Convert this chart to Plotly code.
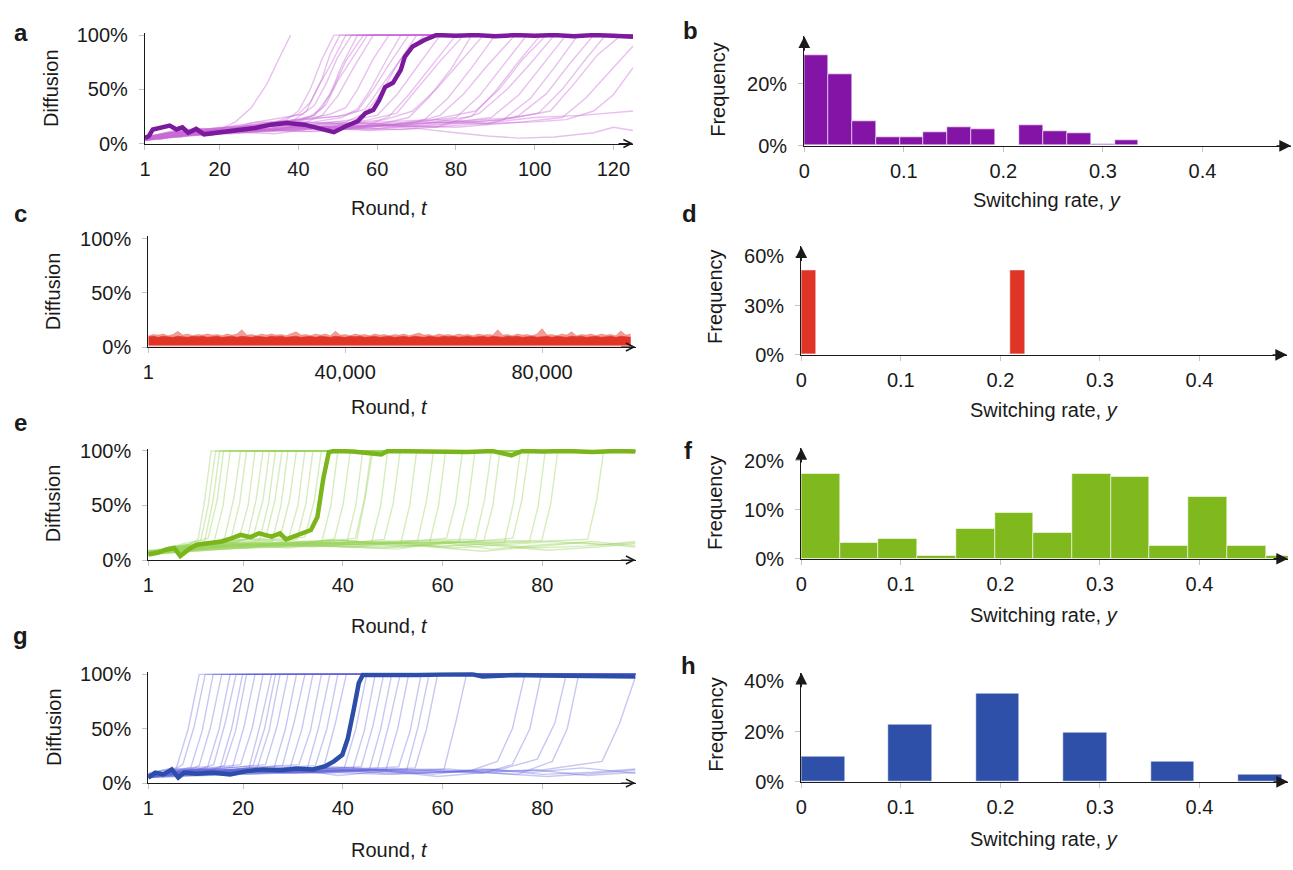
import plotly.graph_objects as go

W, H = 1293, 870
FONT = "Liberation Sans, Arial, Helvetica, sans-serif"
INK = "#1a1a1a"
TICKC = "#c4c4c4"

# ---------------- DATA ----------------
# Panel a: bold session (round, diffusion share)
A_BOLD_R = [1, 2, 3, 5, 7.3, 9, 10.5, 12, 14, 16, 20.5, 24.7, 29, 33, 37, 41.5, 45.7, 49, 52, 55, 57,
            59, 60.5, 62, 64, 66, 67, 69, 72, 75, 80, 85, 90, 95, 100, 105, 110, 115, 120, 125]
A_BOLD_V = [.05, .07, .13, .15, .165, .13, .15, .10, .135, .085, .105, .12, .144, .174, .19, .174, .13, .105, .16, .204, .28,
            .31, .40, .52, .56, .68, .80, .895, .955, 1.0, .995, 1.0, .99, 1.0, .995, 1.0, .99, 1.0, .995, .985]
# Panel a: faint sessions, each [rounds, values]
A_FAINT = [
    [[1, 5, 10, 15, 20, 24, 28, 32, 35, 38], [.04, .07, .06, .11, .13, .20, .33, .55, .78, 1.0]],
    [[1, 6, 12, 18, 25, 31, 37, 40, 43, 46, 49, 125], [.03, .06, .10, .08, .14, .16, .22, .30, .50, .78, 1, 1]],
    [[1, 7, 13, 20, 27, 34, 40, 43, 46, 48, 50.5, 125], [.06, .09, .12, .10, .17, .20, .27, .38, .60, .82, 1, 1]],
    [[1, 5, 11, 18, 26, 33, 39, 42, 45, 48.5, 52, 125], [.05, .04, .09, .13, .15, .19, .22, .30, .52, .75, 1, 1]],
    [[1, 8, 14, 21, 28, 35, 41, 44, 47, 50, 53.5, 125], [.04, .10, .13, .11, .19, .23, .27, .35, .55, .80, 1, 1]],
    [[1, 6, 13, 20, 27, 34, 40, 44, 48, 51, 55, 125], [.07, .08, .11, .15, .14, .18, .21, .26, .45, .72, 1, 1]],
    [[1, 9, 16, 23, 30, 37, 43, 46, 49, 52, 56.5, 125], [.03, .07, .10, .16, .20, .19, .25, .33, .52, .76, 1, 1]],
    [[1, 7, 14, 22, 30, 38, 44, 47, 50, 54, 57.5, 125], [.05, .11, .14, .12, .17, .21, .26, .36, .58, .80, 1, 1]],
    [[1, 6, 12, 19, 27, 35, 42, 46, 50, 54, 59, 125], [.04, .06, .08, .12, .15, .18, .20, .26, .44, .70, 1, 1]],
    [[1, 8, 16, 25, 33, 41, 48, 52, 55, 59, 63, 125], [.06, .09, .13, .15, .20, .22, .27, .33, .50, .78, 1, 1]],
    [[1, 10, 18, 27, 36, 44, 51, 55, 58, 62, 66, 125], [.05, .10, .08, .14, .18, .20, .24, .32, .48, .75, 1, 1]],
    [[1, 7, 15, 24, 33, 42, 50, 55, 59, 63, 68, 125], [.03, .08, .12, .16, .14, .22, .25, .30, .50, .73, 1, 1]],
    [[1, 9, 17, 26, 35, 44, 52, 57, 61, 65, 70, 125], [.06, .07, .10, .13, .17, .15, .20, .28, .47, .72, 1, 1]],
    [[1, 8, 16, 25, 34, 43, 52, 57, 61, 66, 72, 125], [.04, .10, .14, .12, .20, .23, .26, .32, .52, .78, 1, 1]],
    [[1, 6, 14, 24, 34, 44, 54, 60, 65, 70, 76, 125], [.05, .07, .11, .14, .13, .18, .22, .26, .45, .70, 1, 1]],
    [[1, 9, 18, 28, 38, 48, 57, 63, 68, 74, 80, 125], [.03, .08, .12, .10, .15, .19, .16, .25, .45, .72, 1, 1]],
    [[1, 7, 16, 26, 37, 48, 58, 65, 70, 76, 82, 125], [.06, .10, .09, .16, .18, .15, .22, .28, .50, .76, 1, 1]],
    [[1, 10, 20, 30, 41, 52, 62, 68, 73, 79, 84, 125], [.04, .07, .11, .13, .17, .14, .19, .24, .42, .70, 1, 1]],
    [[1, 8, 18, 29, 40, 51, 62, 69, 75, 81, 87, 125], [.05, .11, .14, .17, .20, .18, .22, .30, .50, .75, 1, 1]],
    [[1, 9, 20, 31, 42, 54, 65, 72, 78, 84, 90, 125], [.03, .06, .10, .13, .11, .15, .18, .22, .42, .70, 1, 1]],
    [[1, 7, 19, 31, 43, 55, 67, 76, 82, 88, 95, 125], [.06, .09, .12, .16, .14, .19, .17, .26, .46, .72, 1, 1]],
    [[1, 10, 22, 34, 46, 58, 70, 80, 86, 92, 98, 125], [.04, .08, .11, .09, .15, .18, .20, .24, .44, .72, 1, 1]],
    [[1, 8, 21, 34, 47, 60, 73, 84, 90, 96, 101.5, 125], [.05, .10, .13, .12, .16, .14, .19, .25, .48, .76, 1, 1]],
    [[1, 9, 22, 35, 48, 61, 74, 85, 91, 97, 103, 125], [.03, .07, .10, .14, .18, .20, .22, .30, .50, .78, 1, 1]],
    [[1, 7, 20, 33, 47, 61, 75, 86, 93, 99, 105, 125], [.06, .10, .12, .11, .14, .17, .15, .28, .50, .74, 1, 1]],
    [[1, 10, 24, 38, 52, 66, 80, 89, 96, 102, 108, 125], [.04, .08, .13, .16, .13, .18, .20, .24, .45, .72, 1, 1]],
    [[1, 8, 23, 38, 53, 68, 82, 92, 99, 105, 111, 125], [.05, .11, .09, .14, .17, .15, .19, .22, .42, .70, 1, 1]],
    [[1, 9, 25, 41, 57, 73, 88, 96, 103, 109, 115, 125], [.03, .06, .11, .13, .16, .20, .18, .26, .46, .74, 1, 1]],
    [[1, 7, 24, 41, 58, 75, 92, 101, 107, 113, 118, 125], [.06, .09, .12, .15, .13, .18, .22, .28, .50, .78, 1, 1]],
    [[1, 10, 27, 44, 61, 78, 95, 104, 110, 116, 122, 125], [.04, .10, .13, .11, .16, .20, .24, .30, .55, .82, 1, 1]],
    [[1, 8, 26, 44, 62, 80, 97, 107, 113, 119, 125], [.05, .07, .10, .14, .17, .15, .20, .24, .42, .66, .90]],
    [[1, 9, 28, 47, 66, 85, 100, 108, 115, 120, 125], [.04, .08, .12, .15, .13, .18, .20, .22, .30, .45, .70]],
    [[1, 10, 20, 32, 45, 58, 70, 80, 88, 96, 105, 115, 120, 125],
     [.04, .07, .10, .13, .15, .12, .14, .10, .07, .05, .06, .10, .15, .12]],
    [[1, 12, 25, 38, 50, 63, 75, 88, 100, 112, 125], [.05, .10, .14, .18, .20, .17, .22, .19, .24, .26, .30]],
]

# Panel b: histogram of switching rates
B_BIN = 0.024
B_FREQ = [.292, .232, .079, .026, .026, .045, .059, .053, 0.0, .066, .046, .040, .006, .019]

# Panel c: noisy band over 99,000 rounds
C_ROUNDS = [1 + 1000 * i for i in range(99)]
C_UPPER = [.105, .115, .11, .12, .105, .115, .145, .11, .12, .105,
           .115, .11, .12, .11, .115, .105, .12, .11, .12, .16,
           .11, .115, .105, .12, .11, .12, .11, .115, .105, .12,
           .14, .11, .115, .105, .12, .11, .12, .105, .145, .11,
           .115, .105, .12, .11, .115, .105, .12, .11, .115, .105,
           .115, .11, .12, .105, .115, .13, .11, .115, .105, .12,
           .11, .115, .105, .12, .11, .115, .105, .12, .11, .115,
           .11, .16, .11, .115, .105, .12, .11, .115, .105, .12,
           .17, .11, .115, .105, .12, .11, .14, .105, .115, .11,
           .12, .105, .12, .11, .115, .105, .15, .11, .12]
C_DENSE_TOP = [.095, .10, .09, .10, .095, .09, .10, .095, .09, .10,
               .095, .10, .09, .095, .10, .09, .095, .10, .09, .10,
               .095, .09, .10, .095, .09, .10, .095, .10, .09, .095,
               .10, .09, .095, .10, .09, .10, .095, .09, .10, .095,
               .09, .10, .095, .10, .09, .095, .10, .09, .095, .10,
               .09, .095, .10, .09, .10, .095, .09, .10, .095, .09,
               .10, .095, .10, .09, .095, .10, .09, .095, .10, .09,
               .10, .095, .09, .10, .095, .10, .09, .095, .10, .09,
               .095, .10, .09, .10, .095, .09, .10, .095, .10, .09,
               .095, .10, .09, .095, .10, .09, .10, .095, .09]
C_DENSE_LOW = 0.016
C_LIGHT_LOW = 0.004

# Panel d
D_BIN = 0.015
D_FREQ = [.512, .004, .004, .004, .004, .004, .004, .004, .004, .004, .004, .004, .004, .004, .512]

# Panel e
E_BOLD_R = [1, 2.8, 4.5, 6.2, 7.4, 9, 10.7, 13.2, 15.7, 17.8, 19.5, 21.5, 23.2, 25.7, 27.4, 28.6, 30.7, 32.4,
            33.6, 34.9, 36.1, 37.2, 38.2, 42, 47.7, 49, 55, 60, 65, 70, 73.8, 76, 80, 85, 90, 95, 98.7]
E_BOLD_V = [.05, .066, .095, .11, .036, .095, .14, .16, .17, .20, .23, .21, .245, .215, .245, .19, .23, .26,
            .275, .394, .75, .99, 1.0, .995, .967, 1.0, .995, 1.0, .99, 1.0, .96, 1.0, .995, 1.0, .99, 1.0, .995]
E_FAINT = [
    [[1, 5, 9, 11, 12.3, 13.6, 98.7], [.06, .11, .14, .19, .55, 1, 1]],
    [[1, 4, 8, 11.5, 13, 14.5, 98.7], [.08, .09, .15, .18, .50, 1, 1]],
    [[1, 5, 9, 12.3, 14, 15.3, 98.7], [.05, .12, .13, .17, .55, 1, 1]],
    [[1, 6, 10, 13, 14.8, 16.1, 98.7], [.07, .10, .16, .20, .55, 1, 1]],
    [[1, 5, 10, 14.2, 16, 17.4, 98.7], [.04, .08, .14, .17, .50, 1, 1]],
    [[1, 6, 12, 16.3, 18.2, 19.5, 98.7], [.06, .13, .12, .20, .58, 1, 1]],
    [[1, 7, 13, 17.5, 19.3, 20.7, 98.7], [.09, .11, .16, .18, .52, 1, 1]],
    [[1, 7, 14, 19, 21, 22.4, 98.7], [.05, .12, .14, .17, .50, 1, 1]],
    [[1, 8, 15, 20.8, 22.6, 24, 98.7], [.07, .10, .17, .19, .55, 1, 1]],
    [[1, 8, 16, 22, 24, 25.3, 98.7], [.06, .14, .13, .21, .55, 1, 1]],
    [[1, 9, 17, 23.3, 25.1, 26.5, 98.7], [.08, .12, .16, .18, .52, 1, 1]],
    [[1, 9, 18, 24.5, 26.4, 27.8, 98.7], [.05, .13, .18, .20, .55, 1, 1]],
    [[1, 10, 19, 25.8, 27.6, 29, 98.7], [.07, .11, .14, .17, .50, 1, 1]],
    [[1, 10, 20, 27.4, 29.3, 30.7, 98.7], [.06, .15, .16, .20, .55, 1, 1]],
    [[1, 11, 21, 29, 31, 32.4, 98.7], [.08, .12, .19, .18, .50, 1, 1]],
    [[1, 11, 22, 30.8, 32.6, 34, 98.7], [.05, .14, .13, .19, .52, 1, 1]],
    [[1, 12, 24, 32.4, 34.3, 35.7, 98.7], [.07, .10, .17, .21, .55, 1, 1]],
    [[1, 12, 25, 35.8, 37.6, 39, 98.7], [.06, .13, .15, .17, .50, 1, 1]],
    [[1, 13, 27, 38.3, 40.1, 41.5, 98.7], [.08, .14, .12, .19, .52, 1, 1]],
    [[1, 14, 28, 40.8, 42.6, 44, 98.7], [.05, .11, .16, .16, .50, 1, 1]],
    [[1, 15, 30, 42.5, 44.3, 45.7, 98.7], [.07, .15, .13, .20, .55, 1, 1]],
    [[1, 15, 30, 42.8, 44.6, 46, 98.7], [.06, .12, .17, .18, .60, 1, 1]],
    [[1, 16, 32, 45.8, 47.6, 49, 98.7], [.08, .13, .15, .17, .50, 1, 1]],
    [[1, 17, 34, 48.3, 50.1, 51.5, 98.7], [.05, .16, .12, .19, .52, 1, 1]],
    [[1, 18, 36, 51.6, 53.4, 54.8, 98.7], [.07, .12, .18, .15, .50, 1, 1]],
    [[1, 19, 38, 55, 56.8, 58.2, 98.7], [.06, .15, .13, .18, .55, 1, 1]],
    [[1, 20, 40, 57.4, 59.2, 60.6, 98.7], [.08, .13, .16, .16, .50, 1, 1]],
    [[1, 21, 42, 60.8, 62.6, 64, 98.7], [.05, .14, .12, .20, .52, 1, 1]],
    [[1, 22, 44, 63.3, 65.1, 66.5, 98.7], [.07, .16, .14, .17, .50, 1, 1]],
    [[1, 23, 46, 66.6, 68.4, 69.8, 98.7], [.06, .12, .17, .19, .55, 1, 1]],
    [[1, 24, 48, 68.3, 70.1, 71.5, 98.7], [.08, .15, .11, .18, .50, 1, 1]],
    [[1, 25, 50, 72.4, 74.2, 75.6, 98.7], [.05, .13, .16, .16, .52, 1, 1]],
    [[1, 26, 52, 74.1, 75.9, 77.3, 98.7], [.07, .14, .12, .20, .55, 1, 1]],
    [[1, 27, 54, 77.4, 79.2, 80.6, 98.7], [.06, .16, .15, .17, .50, 1, 1]],
    [[1, 28, 56, 79.9, 81.7, 83.1, 98.7], [.08, .12, .17, .18, .52, 1, 1]],
    [[1, 30, 60, 89.1, 90.9, 92.3, 98.7], [.05, .15, .13, .19, .55, 1, 1]],
    [[1, 10, 20, 30, 40, 50, 60, 70, 80, 90, 98.7], [.06, .12, .16, .14, .18, .13, .16, .10, .14, .17, .13]],
    [[1, 9, 19, 29, 39, 49, 59, 69, 79, 89, 98.7], [.08, .10, .14, .11, .16, .17, .12, .15, .11, .13, .16]],
    [[1, 11, 21, 31, 41, 51, 61, 71, 81, 91, 98.7], [.05, .13, .11, .15, .12, .10, .17, .13, .09, .12, .15]],
    [[1, 8, 18, 28, 38, 48, 58, 68, 78, 88, 98.7], [.07, .11, .15, .13, .19, .15, .12, .08, .12, .16, .12]],
    [[1, 12, 22, 32, 42, 52, 62, 72, 82, 92, 98.7], [.06, .14, .12, .17, .14, .16, .11, .14, .17, .14, .17]],
]

# Panel f
F_BIN = 0.0389
F_FREQ = [.174, .033, .040, .0067, .060, .0933, .0533, .174, .167, .0267, .1267, .0267, .0067]

# Panel g
G_BOLD_R = [1, 2.4, 4, 5.7, 7, 8.2, 10.7, 14, 17.4, 20.7, 24, 27.4, 30.7, 34, 36.5, 38.2, 39.9, 41, 42.2,
            43.2, 44, 50, 55, 60, 66, 68, 75, 80, 85, 90, 95, 98.7]
G_BOLD_V = [.05, .096, .08, .126, .05, .096, .087, .096, .08, .11, .126, .117, .135, .126, .156, .20, .26, .41, .68,
            .92, .994, 1.0, .995, .998, 1.0, .98, .995, .99, .985, .99, .985, .98]
G_FAINT = [
    [[1, 3, 5, 6.7, 9, 11.2, 98.7], [.06, .11, .09, .15, .50, 1, 1]],
    [[1, 3, 6, 7.9, 10.2, 12.4, 98.7], [.08, .07, .12, .17, .52, 1, 1]],
    [[1, 4, 7, 9.5, 11.8, 14, 98.7], [.05, .10, .13, .14, .48, 1, 1]],
    [[1, 4, 8, 11.2, 13.5, 15.7, 98.7], [.07, .12, .10, .16, .52, 1, 1]],
    [[1, 5, 9, 12.9, 15.2, 17.4, 98.7], [.06, .09, .14, .15, .50, 1, 1]],
    [[1, 5, 10, 14.1, 16.4, 18.6, 98.7], [.09, .13, .11, .17, .55, 1, 1]],
    [[1, 6, 10, 15.4, 17.7, 19.9, 98.7], [.05, .10, .13, .14, .50, 1, 1]],
    [[1, 6, 11, 16.2, 18.5, 20.7, 98.7], [.07, .11, .09, .16, .48, 1, 1]],
    [[1, 7, 12, 17.9, 20.2, 22.4, 98.7], [.06, .13, .12, .15, .52, 1, 1]],
    [[1, 7, 13, 19.5, 21.8, 24, 98.7], [.08, .09, .14, .17, .50, 1, 1]],
    [[1, 8, 14, 21.2, 23.5, 25.7, 98.7], [.05, .12, .10, .14, .55, 1, 1]],
    [[1, 8, 15, 22, 24.3, 26.5, 98.7], [.07, .10, .13, .16, .50, 1, 1]],
    [[1, 9, 16, 22.9, 25.2, 27.4, 98.7], [.06, .13, .11, .15, .48, 1, 1]],
    [[1, 9, 17, 24.5, 26.8, 29, 98.7], [.08, .10, .14, .17, .52, 1, 1]],
    [[1, 10, 18, 26.2, 28.5, 30.7, 98.7], [.05, .12, .10, .14, .50, 1, 1]],
    [[1, 10, 19, 27.9, 30.2, 32.4, 98.7], [.07, .09, .13, .16, .55, 1, 1]],
    [[1, 11, 20, 29.5, 31.8, 34, 98.7], [.06, .13, .11, .15, .50, 1, 1]],
    [[1, 11, 21, 31.2, 33.5, 35.7, 98.7], [.08, .10, .14, .17, .48, 1, 1]],
    [[1, 12, 22, 32.9, 35.2, 37.4, 98.7], [.05, .12, .09, .14, .52, 1, 1]],
    [[1, 12, 23, 34.5, 36.8, 39, 98.7], [.07, .10, .13, .16, .50, 1, 1]],
    [[1, 13, 24, 36.2, 38.5, 40.7, 98.7], [.06, .13, .10, .15, .55, 1, 1]],
    [[1, 14, 27, 40.3, 42.6, 44.8, 98.7], [.08, .10, .13, .14, .50, 1, 1]],
    [[1, 15, 28, 42, 44.3, 46.5, 98.7], [.05, .12, .09, .13, .48, 1, 1]],
    [[1, 16, 29, 43.7, 46, 48.2, 98.7], [.07, .09, .12, .15, .52, 1, 1]],
    [[1, 17, 30, 45.3, 47.6, 49.8, 98.7], [.06, .12, .10, .12, .50, 1, 1]],
    [[1, 18, 31, 47, 49.3, 51.5, 98.7], [.08, .10, .13, .14, .55, 1, 1]],
    [[1, 19, 32, 48.7, 51, 53.2, 98.7], [.05, .11, .09, .13, .50, 1, 1]],
    [[1, 20, 34, 51.2, 53.5, 55.7, 98.7], [.07, .13, .10, .15, .48, 1, 1]],
    [[1, 21, 35, 52.8, 55.1, 57.3, 98.7], [.06, .10, .12, .12, .52, 1, 1]],
    [[1, 22, 36, 54.5, 56.8, 59, 98.7], [.08, .12, .09, .14, .50, 1, 1]],
    [[1, 23, 40, 60.3, 62.6, 64.8, 98.7], [.05, .10, .12, .13, .55, 1, 1]],
    [[1, 26, 48, 66, 71, 74, 76.5, 98.7], [.07, .12, .08, .12, .20, .50, 1, 1]],
    [[1, 28, 50, 68, 74, 77.5, 79.8, 98.7], [.06, .10, .13, .09, .17, .50, 1, 1]],
    [[1, 30, 55, 72, 79, 82.5, 84.8, 98.7], [.08, .12, .09, .13, .22, .55, 1, 1]],
    [[1, 32, 58, 75, 82, 85, 87.3, 98.7], [.05, .10, .12, .08, .20, .50, 1, 1]],
    [[1, 34, 60, 80, 92, 95.5, 98.7], [.07, .13, .10, .12, .20, .55, .98]],
    [[1, 10, 20, 30, 40, 50, 60, 70, 80, 90, 98.7], [.06, .10, .13, .09, .12, .08, .10, .12, .08, .10, .13]],
    [[1, 9, 19, 29, 39, 49, 59, 69, 79, 89, 98.7], [.08, .12, .10, .14, .07, .11, .06, .10, .12, .07, .10]],
    [[1, 11, 21, 31, 41, 51, 61, 71, 81, 91, 98.7], [.05, .13, .08, .11, .14, .10, .13, .09, .06, .09, .12]],
    [[1, 8, 18, 28, 38, 48, 58, 68, 78, 88, 98.7], [.07, .09, .12, .10, .15, .12, .08, .13, .10, .14, .09]],
]

# Panel h
H_BIN = 0.0439
H_FREQ = [.099, 0, .227, 0, .352, 0, .194, 0, .079, 0, .027]

# Tick labels
PCT_TICKS = [0, 0.5, 1.0]
PCT_TEXT = ["0%", "50%", "100%"]
A_XTICKS = [1, 20, 40, 60, 80, 100, 120]
C_XTICKS = [1, 40000, 80000]
C_XTEXT = ["1", "40,000", "80,000"]
EG_XTICKS = [1, 20, 40, 60, 80]
SR_TICKS = [0, 0.1, 0.2, 0.3, 0.4]
SR_TEXT = ["0", "0.1", "0.2", "0.3", "0.4"]

# ---------------- STYLE ----------------
PURPLE, PURPLE_F = "#7c1a9e", "rgba(200,105,215,0.42)"
PURPLE_BAR = "#8414a6"
RED = "#e03526"
GREEN, GREEN_F = "#79b51b", "rgba(155,212,95,0.42)"
GREEN_BAR = "#80b91d"
BLUE, BLUE_F = "#2d4ea8", "rgba(100,100,222,0.36)"
BLUE_BAR = "#2f50a8"


def xdom(l, r):
    return [l / W, r / W]


def ydom(t, b):
    return [1 - b / H, 1 - t / H]


fig = go.Figure()


def add_lines(faint, bold_r, bold_v, fcol, bcol, n):
    for r, v in faint:
        fig.add_trace(go.Scatter(x=r, y=v, mode="lines", line=dict(color=fcol, width=1.4),
                                 xaxis=f"x{n}", yaxis=f"y{n}", showlegend=False, hoverinfo="skip"))
    fig.add_trace(go.Scatter(x=bold_r, y=bold_v, mode="lines", line=dict(color=bcol, width=4.5),
                             xaxis=f"x{n}", yaxis=f"y{n}", showlegend=False, hoverinfo="skip"))


def add_hist(freq, binw, col, n):
    centers = [binw * (i + 0.5) for i in range(len(freq))]
    fig.add_trace(go.Bar(x=centers, y=freq, width=[binw] * len(freq), marker=dict(
        color=col, line=dict(color="rgba(255,255,255,0.55)", width=1)),
        xaxis=f"x{n}", yaxis=f"y{n}", showlegend=False, hoverinfo="skip"))


add_lines(A_FAINT, A_BOLD_R, A_BOLD_V, PURPLE_F, PURPLE, 1)
add_hist(B_FREQ, B_BIN, PURPLE_BAR, 2)

# panel c band
fig.add_trace(go.Scatter(x=C_ROUNDS, y=[C_LIGHT_LOW] * len(C_ROUNDS), mode="lines", line=dict(width=0),
                         xaxis="x3", yaxis="y3", showlegend=False, hoverinfo="skip"))
fig.add_trace(go.Scatter(x=C_ROUNDS, y=C_UPPER, mode="lines", line=dict(width=0.6, color="rgba(224,53,38,0.5)"),
                         fill="tonexty", fillcolor="rgba(232,80,70,0.55)",
                         xaxis="x3", yaxis="y3", showlegend=False, hoverinfo="skip"))
fig.add_trace(go.Scatter(x=C_ROUNDS, y=[C_DENSE_LOW] * len(C_ROUNDS), mode="lines", line=dict(width=0),
                         xaxis="x3", yaxis="y3", showlegend=False, hoverinfo="skip"))
fig.add_trace(go.Scatter(x=C_ROUNDS, y=C_DENSE_TOP, mode="lines", line=dict(width=0.6, color=RED),
                         fill="tonexty", fillcolor=RED,
                         xaxis="x3", yaxis="y3", showlegend=False, hoverinfo="skip"))

add_hist(D_FREQ, D_BIN, RED, 4)
add_lines(E_FAINT, E_BOLD_R, E_BOLD_V, GREEN_F, GREEN, 5)
add_hist(F_FREQ, F_BIN, GREEN_BAR, 6)
add_lines(G_FAINT, G_BOLD_R, G_BOLD_V, BLUE_F, BLUE, 7)
add_hist(H_FREQ, H_BIN, BLUE_BAR, 8)

# ---------------- AXES ----------------
FS = 20
tickfont = dict(family=FONT, size=FS, color=INK)
common = dict(showline=True, linecolor=INK, linewidth=1.3, ticks="outside", ticklen=5, tickwidth=1,
              tickcolor=TICKC, showgrid=False, zeroline=False, tickfont=tickfont, fixedrange=True)

# (x range, x pixel span, y range, y pixel span top,bottom, xticks, xtext, yticks, ytext)
AX = {
    1: ([1, 125], (139.6, 630), [0, 1.02], (24.5, 137.7), A_XTICKS, [str(t) for t in A_XTICKS], PCT_TICKS, PCT_TEXT),
    2: ([0, 0.489], (802, 1291), [0, 0.354], (28, 140), SR_TICKS, SR_TEXT, [0, 0.2], ["0%", "20%"]),
    3: ([1, 99000], (143, 632.5), [0, 1.02], (232.8, 346), C_XTICKS, C_XTEXT, PCT_TICKS, PCT_TEXT),
    4: ([0, 0.488], (799, 1287), [0, 0.661], (243, 354), SR_TICKS, SR_TEXT, [0, 0.3, 0.6], ["0%", "30%", "60%"]),
    5: ([1, 98.7], (143, 632.5), [0, 1.02], (450.1, 564), EG_XTICKS, [str(t) for t in EG_XTICKS], PCT_TICKS, PCT_TEXT),
    6: ([0, 0.489], (799, 1288), [0, 0.2266], (449.3, 562.7), SR_TICKS, SR_TEXT, [0, 0.1, 0.2], ["0%", "10%", "20%"]),
    7: ([1, 98.7], (143, 632.5), [0, 1.02], (678.8, 792.3), EG_XTICKS, [str(t) for t in EG_XTICKS], PCT_TICKS, PCT_TEXT),
    8: ([0, 0.489], (799, 1288), [0, 0.435], (679.3, 791), SR_TICKS, SR_TEXT, [0, 0.2, 0.4], ["0%", "20%", "40%"]),
}

layout = {}
annotations = []
for n, (xr, xp, yr, yp, xt, xtt, yt, ytt) in AX.items():
    layout[f"xaxis{n}"] = dict(common, domain=xdom(*xp), range=xr, anchor=f"y{n}",
                               tickvals=xt, ticktext=xtt, ticklabelstandoff=2)
    layout[f"yaxis{n}"] = dict(common, domain=ydom(*yp), range=yr, anchor=f"x{n}",
                               tickvals=yt, ticktext=ytt, ticklabelstandoff=7)
    hist = n % 2 == 0
    annotations.append(dict(x=xr[1], y=yr[0], xref=f"x{n}", yref=f"y{n}", ax=-16, ay=0, text="",
                            showarrow=True, arrowhead=2 if hist else 5, arrowsize=1.8 if hist else 1.2,
                            arrowwidth=1.3, arrowcolor=INK, standoff=0))
    if hist:
        annotations.append(dict(x=xr[0], y=yr[1], xref=f"x{n}", yref=f"y{n}", ax=0, ay=16, text="",
                                showarrow=True, arrowhead=2, arrowsize=1.8, arrowwidth=1.3,
                                arrowcolor=INK, standoff=0))


def txt(s, x, y, size=FS, angle=0, bold=False):
    annotations.append(dict(text=f"<b>{s}</b>" if bold else s, x=x / W, y=1 - y / H, xref="paper", yref="paper",
                            showarrow=False, textangle=angle, xanchor="center", yanchor="middle",
                            font=dict(family=FONT, size=size, color=INK)))


# panel letters
for s, x, y in [("a", 15, 24), ("b", 688, 22), ("c", 15, 209), ("d", 687, 209),
                ("e", 15, 423), ("f", 686, 452), ("g", 15, 641), ("h", 686, 672)]:
    txt(s, x, y, size=24, bold=True)

# axis titles
for x, y in [(385, 204), (385, 407), (385, 632), (385, 861)]:
    txt("Round, <i>t</i>", x, y)
for x, y in [(1046, 195), (1043, 410), (1043, 620), (1043, 850)]:
    txt("Switching rate, <i>y</i>", x, y)
for x, y in [(45, 81), (48, 289), (48, 506), (48, 735)]:
    txt("Diffusion", x, y, angle=-90)
for x, y in [(715, 82), (713, 294), (713, 505), (713, 732)]:
    txt("Frequency", x, y, angle=-90)

fig.update_layout(width=W, height=H, margin=dict(l=0, r=0, t=0, b=0), paper_bgcolor="white",
                  plot_bgcolor="white", annotations=annotations, bargap=0, font=dict(family=FONT), **layout)

fig.write_html("out.html", config={"displayModeBar": False},
               post_script="document.body.style.margin='0';document.body.style.overflow='hidden';")
